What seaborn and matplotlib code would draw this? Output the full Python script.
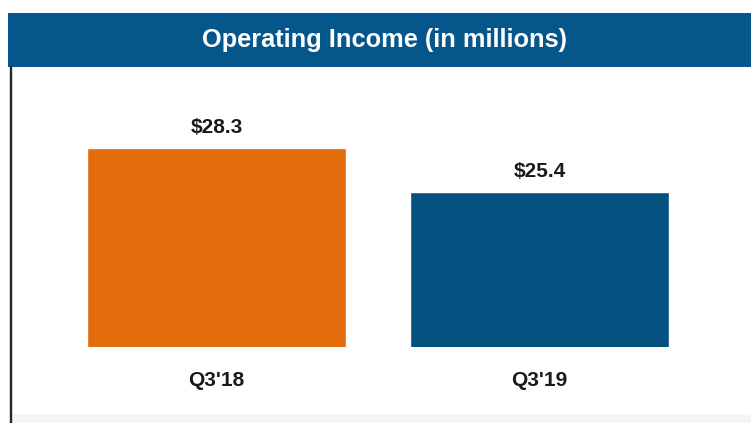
import matplotlib
matplotlib.use("Agg")
import matplotlib.pyplot as plt
from matplotlib.patches import Rectangle
from matplotlib.lines import Line2D
import pandas as pd
import seaborn as sns

# Quarterly operating income, $ millions
quarters = ["Q3'18", "Q3'19"]
income = [28.3, 25.4]
bar_colors = ["#E36C0B", "#02517F"]
title = "Operating Income (in millions)"

sns.set_style("white")
plt.rcParams["font.family"] = ["Liberation Sans", "DejaVu Sans"]
plt.rcParams["font.weight"] = "bold"

W, H = 751, 423
fig = plt.figure(figsize=(W / 100, H / 100), dpi=100)
fig.patch.set_facecolor("white")

# plot area in pixel terms (left, bottom-from-top, right, top-from-top)
px_left, px_right = 12, 751
px_top, px_bottom = 80, 347.3
ax = fig.add_axes([px_left / W, (H - px_bottom) / H,
                   (px_right - px_left) / W, (px_bottom - px_top) / H])
ax.set_facecolor("none")

df = pd.DataFrame({"quarter": quarters, "income": income})
sns.barplot(data=df, x="quarter", y="income", hue="quarter",
            palette=bar_colors, width=0.8, legend=False, ax=ax,
            saturation=1)

ax.set_xlim(-0.633, 1.655)
ax.set_ylim(15.0, 32.86)
ax.set_xlabel("")
ax.set_ylabel("")
ax.set_yticks([])
ax.tick_params(axis="x", length=0, pad=17, labelsize=15, labelcolor="#1a1a1a")
for lbl in ax.get_xticklabels():
    lbl.set_fontweight("bold")
for s in ax.spines.values():
    s.set_visible(False)

for cont in ax.containers:
    ax.bar_label(cont, fmt="$%.1f", padding=8, fontsize=15,
                 fontweight="bold", color="#1a1a1a")

# header band
fig.add_artist(Rectangle((8 / W, (H - 67) / H), (W - 8) / W, 54 / H,
                         transform=fig.transFigure, facecolor="#05568A",
                         edgecolor="none", zorder=0))
fig.text(384 / W, (H - 40) / H, title, ha="center", va="center",
         fontsize=18.3, fontweight="bold", color="white")

# faint footer strip and left frame line
fig.add_artist(Rectangle((12 / W, 0), (W - 12) / W, 9 / H,
                         transform=fig.transFigure, facecolor="#F5F5F5",
                         edgecolor="none", zorder=0))
fig.add_artist(Line2D([10.8 / W, 10.8 / W], [0, (H - 67) / H],
                      transform=fig.transFigure, color="#262626", lw=1.7))

fig.savefig("out.png", dpi=100)
